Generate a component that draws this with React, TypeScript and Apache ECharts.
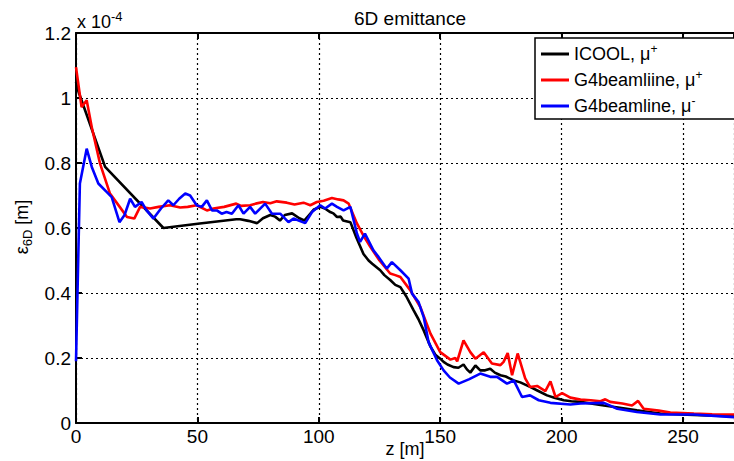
import React, { useEffect, useRef } from "react";
import * as echarts from "echarts";

const TITLE = "6D emittance";
const X_NAME = "z [m]";
const SERIES_NAMES = ["ICOOL, μ+", "G4beamliine, μ+", "G4beamline, μ-"];
const X_MIN = 0;
const X_MAX = 271;
const X_INTERVAL = 50;
const Y_MIN = 0;
const Y_MAX = 1.2;
const Y_INTERVAL = 0.2;

const icool: [number, number][] = [
  [0, 1.05], [1, 1.02], [12, 0.788], [36, 0.6], [51, 0.614], [66, 0.627], [67.6, 0.627], [71, 0.622],
  [74.6, 0.615], [77, 0.63], [80, 0.64], [82, 0.635], [84, 0.623], [86, 0.64], [89, 0.645], [92, 0.63],
  [94, 0.623], [96, 0.64], [98, 0.657], [100.6, 0.665], [102.5, 0.66], [104.7, 0.649], [106, 0.645],
  [107.5, 0.634], [109, 0.635], [110, 0.623], [113, 0.618], [115.5, 0.57], [118.4, 0.52], [120.5, 0.5],
  [122, 0.49], [125.3, 0.47], [127, 0.455], [129.4, 0.44], [131.5, 0.425], [133.6, 0.418], [136, 0.39],
  [139, 0.347], [141, 0.32], [143.2, 0.285], [146, 0.235], [148, 0.21], [150, 0.198], [151.4, 0.188],
  [153, 0.18], [155.5, 0.172], [157.5, 0.17], [159.6, 0.18], [161, 0.165], [162.4, 0.155], [164.5, 0.177],
  [166.5, 0.162], [168.5, 0.162], [170.6, 0.167], [172.5, 0.155], [174.8, 0.147], [177, 0.143],
  [180.3, 0.131], [183, 0.125], [187, 0.111], [190, 0.1], [194, 0.085], [197, 0.078], [200.9, 0.07],
  [204, 0.067], [207.8, 0.065], [212, 0.06], [217.4, 0.054], [224, 0.047], [231, 0.039], [236, 0.034],
  [240.7, 0.029], [249, 0.026], [260, 0.023], [271, 0.021],
];

const g4Plus: [number, number][] = [
  [0, 1.095], [2.3, 0.972], [4.4, 0.993], [6.5, 0.91], [9.9, 0.798], [14, 0.706], [18, 0.665], [21, 0.634],
  [24, 0.629], [26.4, 0.665], [30.5, 0.66], [34, 0.665], [38.7, 0.67], [42.9, 0.663], [46, 0.665],
  [49.7, 0.67], [53.9, 0.654], [56.6, 0.66], [61, 0.665], [66, 0.675], [68, 0.668], [71.7, 0.67],
  [74, 0.675], [77, 0.68], [80, 0.676], [82.7, 0.682], [86.8, 0.678], [90, 0.672], [93.7, 0.678],
  [96.5, 0.67], [99.2, 0.68], [102, 0.684], [105.4, 0.692], [108, 0.688], [110.2, 0.685], [112.3, 0.675],
  [115.7, 0.614], [118.5, 0.575], [121.2, 0.542], [125, 0.5], [129.4, 0.46], [131.5, 0.455], [133.6, 0.449],
  [137.7, 0.408], [141.8, 0.357], [146, 0.275], [150, 0.218], [154.2, 0.195], [156.2, 0.2], [157, 0.19],
  [159.6, 0.254], [162.4, 0.218], [164.5, 0.198], [167.9, 0.218], [171.3, 0.183], [174.8, 0.178],
  [176.1, 0.188], [177.8, 0.215], [179.6, 0.147], [181.9, 0.214], [185, 0.137], [187, 0.111],
  [189.9, 0.114], [193.3, 0.098], [195.4, 0.128], [197.5, 0.08], [200.2, 0.092], [203.6, 0.078],
  [207.8, 0.072], [212, 0.07], [216, 0.067], [218, 0.073], [220, 0.065], [225, 0.06], [229, 0.054],
  [231.5, 0.068], [233.8, 0.044], [240, 0.038], [244.8, 0.032], [254.5, 0.029], [262, 0.027], [271, 0.026],
];

const g4Minus: [number, number][] = [
  [0, 0.19], [1.6, 0.737], [4.4, 0.844], [6.5, 0.788], [9.2, 0.737], [12.6, 0.711], [14.7, 0.695],
  [17.9, 0.618], [20, 0.64], [22.3, 0.69], [24.3, 0.665], [27, 0.68], [29, 0.655], [31.9, 0.629],
  [35, 0.66], [38, 0.685], [40.1, 0.67], [42.5, 0.69], [45, 0.706], [47, 0.7], [49.7, 0.67], [51.8, 0.665],
  [53.9, 0.685], [56, 0.654], [58, 0.654], [60, 0.644], [62, 0.649], [64.2, 0.644], [66.9, 0.67],
  [69, 0.644], [71.7, 0.665], [73.8, 0.644], [77.9, 0.675], [80.7, 0.644], [84.1, 0.644], [87.5, 0.618],
  [89.6, 0.629], [94.4, 0.615], [97.2, 0.649], [100.6, 0.67], [102.6, 0.66], [105.4, 0.675], [107.5, 0.665],
  [110.2, 0.654], [113, 0.665], [115.7, 0.583], [117, 0.557], [119, 0.583], [122.5, 0.531], [124.6, 0.511],
  [128, 0.475], [130.1, 0.495], [133.6, 0.47], [137, 0.444], [138.4, 0.398], [141.1, 0.372], [143.2, 0.326],
  [145.2, 0.249], [148.7, 0.193], [151.4, 0.162], [154, 0.14], [157.6, 0.121], [162, 0.135], [166.5, 0.152],
  [170.6, 0.142], [173.4, 0.142], [177.5, 0.121], [180.3, 0.131], [183.7, 0.08], [187, 0.085],
  [190.6, 0.07], [195.4, 0.062], [203.6, 0.057], [207.8, 0.06], [217.4, 0.062], [222.9, 0.044],
  [231, 0.034], [240.7, 0.026], [254.5, 0.026], [263, 0.022], [271, 0.018],
];

const SERIES_DATA = [icool, g4Plus, g4Minus];
const COLORS = ["#000000", "#ff0000", "#0000ff"];

const FONT = "Liberation Sans, Arial, Helvetica, sans-serif";

export default function App() {
  const ref = useRef<HTMLDivElement>(null);
  useEffect(() => {
    if (!ref.current) return;
    const chart = echarts.init(ref.current, null, { renderer: "svg" });
    const tickFmt = (v: number) => (Math.abs(v % X_INTERVAL) < 1e-6 ? String(v) : "");
    chart.setOption({
      animation: false,
      backgroundColor: "#ffffff",
      title: {
        text: TITLE,
        left: 405,
        textAlign: "center",
        top: 4,
        textStyle: { fontFamily: FONT, fontSize: 19, fontWeight: "normal", color: "#000" },
      },
      legend: {
        left: 535,
        top: 38,
        orient: "vertical",
        backgroundColor: "#fff",
        borderColor: "#000",
        borderWidth: 1.5,
        padding: [5, 40, 4, 6],
        itemGap: 6,
        itemWidth: 28,
        itemHeight: 3,
        icon: "rect",
        data: SERIES_NAMES,
        formatter: (name: string) => {
          const last = name.slice(-1);
          return "{a|" + name.slice(0, -1) + "}{sup|" + last + "}";
        },
        textStyle: {
          fontFamily: FONT,
          color: "#000",
          rich: {
            a: { fontFamily: FONT, fontSize: 18, color: "#000", lineHeight: 19 },
            sup: { fontFamily: FONT, fontSize: 12, color: "#000", padding: [0, 0, 10, 0] },
          },
        },
      },
      grid: {
        left: 76,
        top: 33,
        right: 0,
        bottom: 38,
        containLabel: false,
        outerBoundsMode: "none",
      },
      xAxis: [
        {
          type: "value",
          min: X_MIN,
          max: X_MAX,
          interval: X_INTERVAL,
          name: X_NAME,
          nameLocation: "middle",
          nameGap: 17,
          nameMoveOverlap: false,
          nameTextStyle: { fontFamily: FONT, fontSize: 18, color: "#000" },
          axisLine: { show: true, onZero: false, lineStyle: { color: "#000", width: 2 } },
          axisTick: { show: true, inside: true, length: 6, lineStyle: { color: "#000", width: 2 } },
          axisLabel: {
            show: true,
            showMaxLabel: false,
            margin: 4,
            fontFamily: FONT,
            fontSize: 19,
            color: "#000",
            formatter: tickFmt,
          },
          splitLine: { show: true, lineStyle: { color: "#000", type: [2, 3], width: 1.2 } },
        },
        {
          type: "value",
          position: "top",
          min: X_MIN,
          max: X_MAX,
          interval: X_INTERVAL,
          axisLine: { show: true, onZero: false, lineStyle: { color: "#000", width: 2 } },
          axisTick: { show: true, inside: true, length: 6, lineStyle: { color: "#000", width: 2 } },
          axisLabel: { show: false },
          splitLine: { show: false },
        },
      ],
      yAxis: {
        type: "value",
        min: Y_MIN,
        max: Y_MAX,
        interval: Y_INTERVAL,
        axisLine: { show: true, onZero: false, lineStyle: { color: "#000", width: 2 } },
        axisTick: { show: true, inside: true, length: 6, lineStyle: { color: "#000", width: 2 } },
        axisLabel: {
          margin: 5,
          fontFamily: FONT,
          fontSize: 19,
          color: "#000",
          formatter: (v: number) => String(parseFloat(v.toFixed(1))),
        },
        splitLine: { show: true, lineStyle: { color: "#000", type: [2, 3], width: 1.2 } },
      },
      graphic: [
        {
          type: "text",
          left: 77,
          top: 10,
          style: {
            text: "x 10{sup|-4}",
            fontFamily: FONT,
            fontSize: 18,
            fill: "#000",
            rich: {
              sup: { fontFamily: FONT, fontSize: 13, fill: "#000", padding: [0, 0, 10, 0] },
            },
          },
        },
        {
          type: "text",
          x: 22,
          y: 227,
          rotation: Math.PI / 2,
          style: {
            text: "ε{sub|6D} [m]",
            fontFamily: FONT,
            fontSize: 18,
            fill: "#000",
            align: "center",
            verticalAlign: "middle",
            rich: {
              sub: { fontFamily: FONT, fontSize: 13, fill: "#000", padding: [10, 0, 0, 0] },
            },
          },
        },
      ],
      series: SERIES_NAMES.map((name, i) => ({
        name,
        type: "line",
        xAxisIndex: 0,
        data: SERIES_DATA[i],
        showSymbol: false,
        symbol: "none",
        lineStyle: { color: COLORS[i], width: 2.6 },
        itemStyle: { color: COLORS[i] },
        z: 3 + i,
      })),
    });
    return () => chart.dispose();
  }, []);
  return (
    <div
      ref={ref}
      style={{ position: "fixed", left: 0, top: 0, width: 734, height: 461, background: "#fff" }}
    />
  );
}
